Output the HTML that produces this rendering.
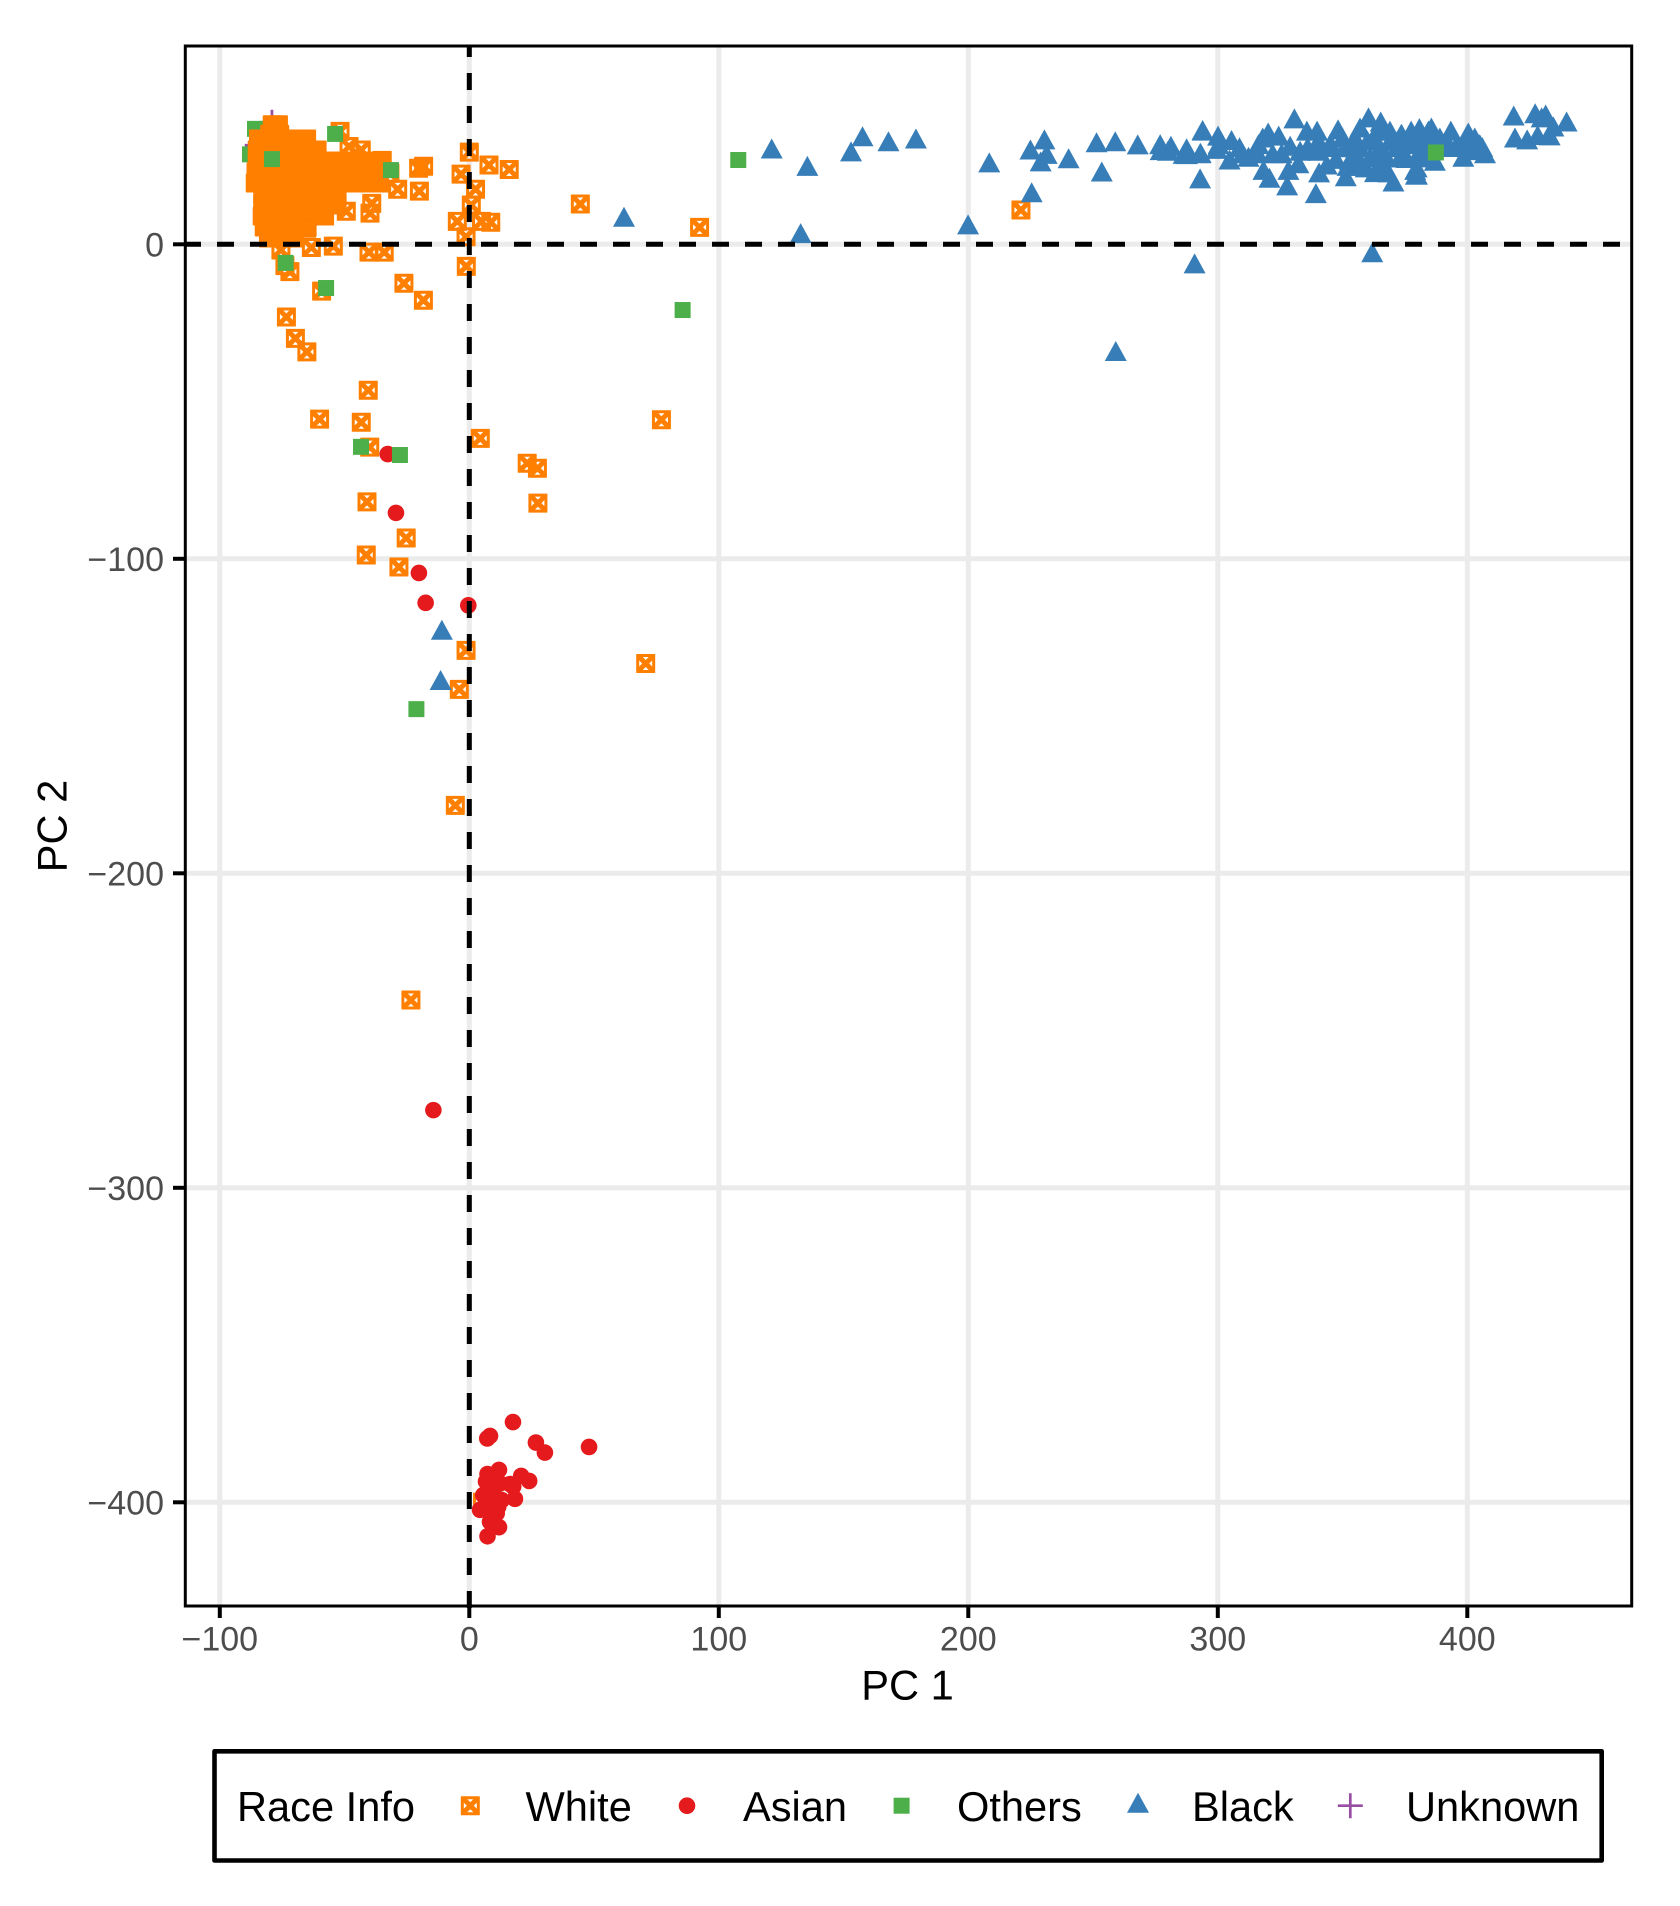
<!DOCTYPE html>
<html lang="en">
<head>
<meta charset="utf-8">
<title>PCA scatter plot by race</title>
<style>
html,body{margin:0;padding:0;background:#fff;}
svg{display:block;font-family:"Liberation Sans",sans-serif;}
</style>
</head>
<body>
<svg id="chart" xmlns="http://www.w3.org/2000/svg" width="1680" height="1906" viewBox="0 0 1680 1906">
  <rect x="0" y="0" width="1680" height="1906" fill="#ffffff"/>
  <g id="grid"></g>
  <g id="marks"></g>
  <g id="refs"></g>
  <rect x="185.3" y="46" width="1446.4" height="1560" fill="none" stroke="#000" stroke-width="3"/>
  <g id="axes"></g>
  <text x="907.5" y="1699.5" font-size="41.6" text-anchor="middle" fill="#000">PC 1</text>
  <text transform="translate(66.7,826) rotate(-90)" font-size="41.6" text-anchor="middle" fill="#000">PC 2</text>
  <g>
    <rect x="214.5" y="1751.3" width="1387.2" height="109.2" fill="#fff" stroke="#000" stroke-width="4.6" stroke-linejoin="round"/>
    <text x="237" y="1821" font-size="41.6" fill="#000">Race Info</text>
    <path transform="translate(470.3,1805.7)" fill="#FF7F00" stroke="#FF7F00" stroke-width="1" stroke-linejoin="round" fill-rule="evenodd" d="M-9 -9H9V9H-9Z M-4.2 -7H4.2L0 -2.8Z M-4.2 7H4.2L0 2.8Z M-7 -4.2V4.2L-2.8 0Z M7 -4.2V4.2L2.8 0Z"/>
    <text x="525.5" y="1821" font-size="41.6" fill="#000">White</text>
    <circle cx="687" cy="1805.7" r="8.3" fill="#E41A1C"/>
    <text x="743" y="1821" font-size="41.6" fill="#000">Asian</text>
    <rect x="893.6" y="1797.7" width="16" height="16" fill="#4DAF4A"/>
    <text x="957" y="1821" font-size="41.6" fill="#000">Others</text>
    <path transform="translate(1138,1805.7)" fill="#377EB8" d="M0 -13L11 7L-11 7Z"/>
    <text x="1192" y="1821" font-size="41.6" fill="#000">Black</text>
    <path transform="translate(1350.3,1805.7)" fill="none" stroke="#984EA3" stroke-width="2.7" d="M-12.5 0H12.5M0 -12.5V12.5"/>
    <text x="1406" y="1821" font-size="41.6" fill="#000">Unknown</text>
  </g>
</svg>
<script>
const xTickValues = [-100, 0, 100, 200, 300, 400];
const yTickValues = [0, -100, -200, -300, -400];
const unknownScores = [[-79.1,38.8],[-85,31.5],[-79,33],[-66,31]];
const othersLowerScores = [[-85.9,36.7],[-87.9,28.6],[-79.9,35.3],[-79.1,31.9],[-83.6,20.2],[-73.9,8.3]];
const whiteClusterScores = [
[-79,38],[-76.5,38],[-80,35],[-76,35],
[-84.5,33.5],[-80,33.5],[-75,33.5],[-70,33.5],[-65.2,33.5],
[-85,30],[-80,30],[-75,30],[-70,30],[-65,30],[-61,30],
[-85,26.5],[-80,26.5],[-75,26.5],[-70,26.5],[-65,26.5],[-60,26.5],[-55,26.5],[-50,26.5],[-45,26.5],[-40,26.5],[-36,26.5],
[-85.5,23],[-81,23],[-76,23],[-71,23],[-66,23],[-61,23],[-56,23],[-51,23],[-46,23],[-41,23],[-36,23],
[-85.8,19.5],[-81,19.5],[-76,19.5],[-71,19.5],[-66,19.5],[-61,19.5],[-56,19.5],[-51,19.5],[-46,19.5],[-41,19.5],[-36,19.5],
[-82.8,16],[-78,16],[-73,16],[-68,16],[-63,16],[-58,16],[-53,16],
[-82.8,12.5],[-78,12.5],[-73,12.5],[-68,12.5],[-63,12.5],[-58,12.5],[-53,12.5],
[-83,9],[-78,9],[-73,9],[-68,9],[-63,9],[-58,9],
[-82.2,5.5],[-78,5.5],[-73,5.5],[-68,5.5],[-65,5.5],
[-80.5,2],[-77,2],[-74,2],[-70,2]
];
const whiteScores = [
[0,29.3],[7.9,25.2],[16,23.8],[-3.3,22.3],[2.5,17.5],[0.8,12.5],[-4.8,7.3],[4.9,7.3],[8.6,7],[-1.3,2.4],[-1.2,-7],
[-26.2,-12.4],[-18.4,-17.8],[44.5,12.8],[-28.7,17.5],[-20,16.9],[-18.3,24.8],[-20.3,24.2],[-39.8,9.9],[-39.1,13],[-49.3,10.5],
[-63.3,-1],[-54.5,-0.6],[-40.2,-2.5],[-34.1,-2.5],[-59.2,-14.9],[-73.3,-23.1],[-69.7,-29.9],[-65.1,-34.2],[-71.9,-8.7],[-73.9,-6.8],[-75.5,-1.8],
[-51.8,35.9],[-48.2,31.1],[-43.3,30],[-34.9,26.7],[-31.8,22.6],[-65.2,5.1],[92.3,5.4],[221.1,10.9],
[-40.5,-46.4],[-60,-55.6],[-43.3,-56.6],[-39.9,-64.5],[4.4,-61.7],[23.2,-69.6],[27.3,-71.2],[77,-55.8],[27.5,-82.3],[-41,-81.9],
[-25.3,-93.4],[-41.3,-98.8],[-28.2,-102.6],[-1.3,-129.1],[70.7,-133.3],[-4,-141.5],[-5.6,-178.4],[-23.4,-240.3],[5.3,-400]
];
const asianScores = [
[-32.7,-66.7],[-29.4,-85.4],[-20.2,-104.5],[-17.5,-114],[-0.4,-114.8],[-14.4,-275.3],
[17.5,-374.5],[8.3,-378.9],[7.2,-379.7],[26.7,-381],[30.3,-384.2],[48,-382.4],
[11.9,-389.7],[7.3,-391],[20.8,-391.6],[24,-393.2],[16.3,-394.2],[6.7,-393.4],[17.6,-395],[12.3,-394],
[18.3,-398.9],[9,-395],[5.6,-397.7],[9.6,-397.7],[13,-399.3],[4.3,-402.4],[6.3,-401.4],[9,-402.4],[11.6,-401.4],[6.9,-399.3],
[8.3,-406.2],[11.9,-407.9],[7.3,-410.8],[11,-403.5]
];
const blackScores = [
[-11,-123.5],[-11.5,-139.5],[62,7.8],
[121.2,29.5],[135.5,24],[153,28.6],[157.6,33.4],[168,31.8],[179,32.7],[208.4,25.1],[199.9,5.4],[132.8,2.6],
[224.9,29.2],[230.5,32.4],[231.4,27.8],[229,25.4],[240.2,26.4],[225.4,15.6],[251.4,31.5],[258.9,31.8],[267.9,30.8],[253.5,22.2],
[259.1,-34.9],[290.7,-7],[361.9,-3.5],[292.9,20],[339.3,15.3],[276.9,30.9],[281.2,30.4],[277.1,29],[280,28.8],[287.5,29.6],[286.3,27.8],[293.1,28.1],[293.9,35.4],
[294,35.2],[287.6,27.7],[292.9,28],[300.1,33.6],[305.5,32.2],[300.3,30.9],[299.6,29.4],[304.7,26],[308.7,29.9],[312.3,26.9],[316.3,30.9],[320.2,34.6],[324.4,33.6],[330.7,39.1],
[318.3,22.7],[320.7,20.2],[328.3,22.7],[327.8,17.8],[340.6,21.9],[351.3,20.7],[335.7,35.2],[339.8,35.2],[348.2,35.6],[325.6,28],[332.3,24.8],[340.3,28.8],[333,28.8],[343.7,24.4],[347.4,26.2],[353,29.9],[329,30.4],[340.3,32],
[357,36.2],[360.4,39.4],[365.3,38.1],[369,35.2],[373.5,34.1],[377.5,35.2],[380.8,36],[384.4,35.2],[359.3,23.5],[368.4,21.9],[370.4,19],[379.8,21.2],[379.1,22.7],[353,25.9],[362.4,33],[365,29.9],[361,26.7],[367.7,26.7],[371.7,29.9],[377.1,30.9],[381.1,28.3],[357,29.9],[373,26.7],[383.8,26.7],[365,35.2],
[418.6,40],[427.2,40.7],[431.4,40.3],[439.8,38.1],[429.8,39.4],[434.5,36.5],[419.1,33],[424,32.4],[428.2,33.8],[433,33.7],
[407.1,28],[405,30.9],[400.4,34.6],[403,33],[398.4,26.9],[393.4,35.2],[385.6,36.2],[380.6,35.2],[377.7,34.6],[373.7,34.1],[387,25.6],[379.4,21.2],[379.7,23.5],[381,28.8],[375.7,26.5],[391.7,32],[399.7,30.9],
[345,31],[350,33],[355,33],[360,32],[363,27],[369,32],[372,32],[375,31],[378,33],[383,32],[386,31],[389,33],[393,30],[396,31],[402,29],[406,30],[356,27],[351,30],[346,30],[336,30],[322,28],[316,28],[310,28],[318,33],
[352,24],[358,24],[363,22],[355,27],[366,24]
];
const othersScores = [[107.8,26.8],[85.5,-20.9],[-43.4,-64.4],[-27.8,-67],[-21.2,-147.8],[-73.6,-5.9],[-57.4,-13.9],[-53.8,35.1],[-79.1,27.1],[-31.4,23.6],[387.4,29.2]];

const SVGNS = 'http://www.w3.org/2000/svg';
const panelLeft = 185.3, panelRight = 1631.7, panelTop = 46, panelBottom = 1606;
function xScale(v) { return 469.3 + 2.495 * v; }
function yScale(v) { return 244.3 - 3.145 * v; }
function make(tag, attrs, parent) {
  const el = document.createElementNS(SVGNS, tag);
  for (const k in attrs) el.setAttribute(k, attrs[k]);
  parent.appendChild(el);
  return el;
}
const grid = document.getElementById('grid');
const axes = document.getElementById('axes');
const refs = document.getElementById('refs');
const marks = document.getElementById('marks');

xTickValues.forEach(function (v) {
  const x = xScale(v);
  const g = make('line', {x1: x, x2: x, y1: panelTop, y2: panelBottom, stroke: '#ebebeb', 'stroke-width': 5}, grid);
  
  
  const t = make('line', {x1: x, x2: x, y1: panelBottom, y2: 1618, stroke: '#000', 'stroke-width': 4}, axes);
  
  
  const l = make('text', {x: x, y: 1650.7, 'font-size': 34, 'text-anchor': 'middle', fill: '#4d4d4d'}, axes);
  
  
  l.textContent = String(v).replace('-', '\u2212');
});
yTickValues.forEach(function (v) {
  const y = yScale(v);
  const g = make('line', {x1: panelLeft, x2: panelRight, y1: y, y2: y, stroke: '#ebebeb', 'stroke-width': 5}, grid);
  
  
  const t = make('line', {x1: 173, x2: panelLeft, y1: y, y2: y, stroke: '#000', 'stroke-width': 4}, axes);
  
  
  const l = make('text', {x: 164, y: y + 12.3, 'font-size': 34, 'text-anchor': 'end', fill: '#4d4d4d'}, axes);
  
  
  l.textContent = String(v).replace('-', '\u2212');
});

const hRef = make('line', {x1: 184, x2: panelRight, y1: yScale(0), y2: yScale(0), stroke: '#000', 'stroke-width': 5, 'stroke-dasharray': '17 16'}, refs);


const vRef = make('line', {x1: xScale(0), x2: xScale(0), y1: 1608, y2: panelTop, stroke: '#000', 'stroke-width': 5, 'stroke-dasharray': '17 16'}, refs);



function drawUnknown(p) {
  const el = make('path', {transform: 'translate(' + xScale(p[0]) + ',' + yScale(p[1]) + ')', fill: 'none', stroke: '#984EA3', 'stroke-width': 2.7, d: 'M-12.5 0H12.5M0 -12.5V12.5'}, marks);
  
  
}
function drawOthers(p) {
  const el = make('rect', {x: xScale(p[0]) - 8, y: yScale(p[1]) - 8, width: 16, height: 16, fill: '#4DAF4A'}, marks);
  
  
}
function drawWhiteCluster(p) {
  const el = make('rect', {x: xScale(p[0]) - 9.5, y: yScale(p[1]) - 9.5, width: 19, height: 19, rx: 1, fill: '#FF7F00'}, marks);
  
  
}
function drawWhite(p) {
  const el = make('path', {transform: 'translate(' + xScale(p[0]) + ',' + yScale(p[1]) + ')', fill: '#FF7F00', stroke: '#FF7F00', 'stroke-width': 1, 'stroke-linejoin': 'round', 'fill-rule': 'evenodd', d: 'M-9 -9H9V9H-9Z M-4.2 -7H4.2L0 -2.8Z M-4.2 7H4.2L0 2.8Z M-7 -4.2V4.2L-2.8 0Z M7 -4.2V4.2L2.8 0Z'}, marks);
  
  
}
function drawAsian(p) {
  const el = make('circle', {cx: xScale(p[0]), cy: yScale(p[1]), r: 8.3, fill: '#E41A1C'}, marks);
  
  
}
function drawBlack(p) {
  const el = make('path', {transform: 'translate(' + xScale(p[0]) + ',' + yScale(p[1]) + ')', fill: '#377EB8', d: 'M0 -13L11 7L-11 7Z'}, marks);
  
  
}
unknownScores.forEach(drawUnknown);
othersLowerScores.forEach(drawOthers);
whiteClusterScores.forEach(drawWhiteCluster);
whiteScores.forEach(drawWhite);
asianScores.forEach(drawAsian);
blackScores.forEach(drawBlack);
othersScores.forEach(drawOthers);
</script>
</body>
</html>
